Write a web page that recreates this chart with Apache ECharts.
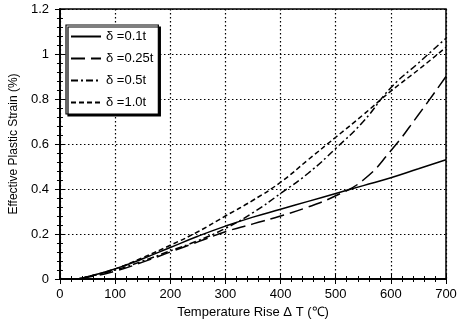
<!DOCTYPE html>
<html>
<head>
<meta charset="utf-8">
<script src="https://cdn.jsdelivr.net/npm/echarts@6/dist/echarts.min.js"></script>
<style>
  html, body { margin: 0; padding: 0; background: #fff; }
  #chart { width: 461px; height: 325px; }
</style>
</head>
<body>
<div id="chart"></div>
<script>
// temperature rise (deg C)
const temps = [0, 25, 50, 100, 150, 200, 250, 300, 350, 400, 450, 500, 550, 600, 650, 700];
// effective plastic strain (%) for each delta
const d01 = [0, 0, 0.01, 0.045, 0.09, 0.14, 0.19, 0.235, 0.275, 0.31, 0.345, 0.38, 0.415, 0.45, 0.49, 0.53];
const d025 = [0, 0, 0.008, 0.035, 0.075, 0.12, 0.165, 0.21, 0.245, 0.28, 0.32, 0.37, 0.44, 0.57, 0.73, 0.9];
const d05 = [0, 0, 0.01, 0.04, 0.08, 0.125, 0.17, 0.225, 0.295, 0.38, 0.47, 0.58, 0.7, 0.85, 0.96, 1.07];
const d10 = [0, 0, 0.01, 0.045, 0.095, 0.15, 0.21, 0.28, 0.35, 0.43, 0.53, 0.63, 0.73, 0.835, 0.93, 1.03];
const names = ['δ =0.1t', 'δ =0.25t', 'δ =0.5t', 'δ =1.0t'];

const font = 'Liberation Sans, Arial, sans-serif';
const pairs = ys => temps.map((t, i) => [t, ys[i]]);

const myChart = echarts.init(document.getElementById('chart'));

const lineSeries = (name, ys, type) => ({
    name: name,
    type: 'line',
    data: pairs(ys),
    smooth: true,
    symbol: 'none',
    itemStyle: { color: '#000' },
    lineStyle: { color: '#000', width: 1.5, type: type }
});

const tickStyle = {
    axisTick: { show: true, inside: true, length: 5, lineStyle: { color: '#000' } },
    minorTick: { show: true, splitNumber: 5, length: 3, lineStyle: { color: '#000' } }
};

myChart.setOption({
    animation: false,
    backgroundColor: '#fff',
    grid: { left: 55, right: 15, top: 9, bottom: 46, show: true, borderColor: '#000', borderWidth: 1.5 },
    legend: {
        data: names,
        orient: 'vertical',
        left: 66,
        top: 25,
        padding: [5, 5, 5, 4],
        itemWidth: 30,
        itemHeight: 10,
        itemGap: 9,
        backgroundColor: '#fff',
        borderColor: '#000',
        borderWidth: 1.2,
        shadowColor: '#000',
        shadowOffsetX: 2,
        shadowOffsetY: 2,
        shadowBlur: 0,
        itemStyle: { opacity: 0 },
        textStyle: { color: '#000', fontFamily: font, fontSize: 13 }
    },
    xAxis: [
        Object.assign({
            type: 'value',
            min: 0,
            max: 700,
            interval: 100,
            name: 'Temperature Rise Δ T (℃)',
            nameLocation: 'middle',
            nameGap: 27,
            nameTextStyle: { color: '#000', fontFamily: font, fontSize: 13 },
            axisLine: { show: true, lineStyle: { color: '#000', width: 1.5 } },
            axisLabel: { color: '#000', fontFamily: font, fontSize: 13, margin: 9 },
            splitLine: { show: true, lineStyle: { color: '#000', type: [1.5, 2.5], width: 1.2 } }
        }, tickStyle),
        Object.assign({
            type: 'value', position: 'top', min: 0, max: 700, interval: 100,
            axisLine: { show: true, lineStyle: { color: '#000', width: 1.5 } },
            axisLabel: { show: false },
            splitLine: { show: false }
        }, tickStyle)
    ],
    yAxis: [
        Object.assign({
            type: 'value',
            min: 0,
            max: 1.2,
            interval: 0.2,
            name: 'Effective Plastic Strain (%)',
            nameLocation: 'middle',
            nameGap: 34,
            nameTextStyle: { color: '#000', fontFamily: font, fontSize: 12 },
            axisLine: { show: true, lineStyle: { color: '#000', width: 1.5 } },
            axisLabel: { color: '#000', fontFamily: font, fontSize: 13, margin: 11 },
            splitLine: { show: true, lineStyle: { color: '#000', type: [1.5, 2.5], width: 1.2 } }
        }, tickStyle),
        Object.assign({
            type: 'value', position: 'right', min: 0, max: 1.2, interval: 0.2,
            axisLine: { show: true, lineStyle: { color: '#000', width: 1.5 } },
            axisLabel: { show: false },
            splitLine: { show: false }
        }, tickStyle)
    ],
    series: [
        lineSeries(names[0], d01, 'solid'),
        lineSeries(names[1], d025, [14, 6]),
        lineSeries(names[2], d05, [7, 3, 2, 3]),
        lineSeries(names[3], d10, [5, 3])
    ]
});
</script>
</body>
</html>
